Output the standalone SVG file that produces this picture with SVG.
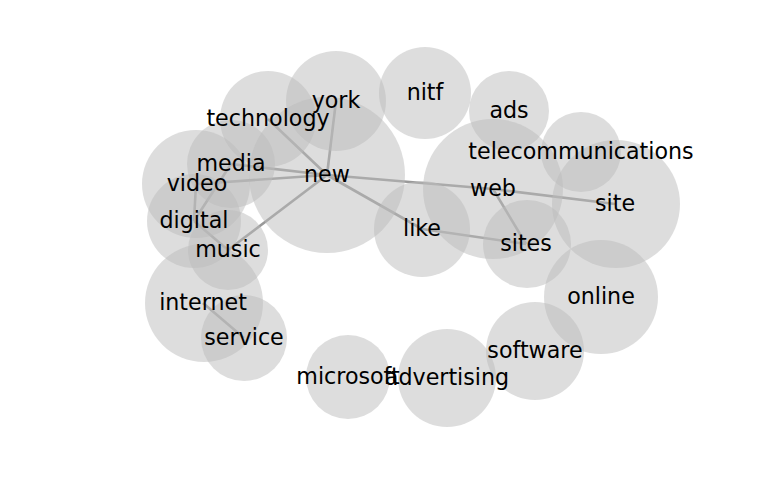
<svg xmlns="http://www.w3.org/2000/svg" width="768" height="500" viewBox="0 0 768 500">
<style>
.n circle{fill:#bbbbbb;fill-opacity:0.5}
.n text{font-family:"DejaVu Sans",sans-serif;font-size:22.2px;text-anchor:middle;fill:#000}
#edges line{stroke:#999999;stroke-width:2.6;stroke-linecap:butt}
</style>
<rect width="768" height="500" fill="#ffffff"/>
<g id="edges">
<line x1="327" y1="175" x2="336" y2="101"/>
<line x1="327" y1="175" x2="268" y2="119"/>
<line x1="327" y1="175" x2="231" y2="164"/>
<line x1="327" y1="175" x2="197" y2="184"/>
<line x1="327" y1="175" x2="228" y2="250"/>
<line x1="327" y1="175" x2="493" y2="189"/>
<line x1="327" y1="175" x2="422" y2="229"/>
<line x1="493" y1="189" x2="615" y2="204"/>
<line x1="493" y1="189" x2="526" y2="244"/>
<line x1="422" y1="229" x2="526" y2="244"/>
<line x1="196" y1="184" x2="194" y2="221"/>
<line x1="231" y1="164" x2="194" y2="221"/>
<line x1="194" y1="221" x2="228" y2="250"/>
<line x1="203" y1="303" x2="244" y2="338"/>
</g>
<g id="node-york" class="n"><circle cx="336" cy="101" r="50"/></g>
<g id="node-nitf" class="n"><circle cx="425" cy="93" r="46"/></g>
<g id="node-technology" class="n"><circle cx="268" cy="119" r="48"/></g>
<g id="node-ads" class="n"><circle cx="509" cy="111" r="40"/></g>
<g id="node-telecommunications" class="n"><circle cx="581" cy="152" r="40"/></g>
<g id="node-media" class="n"><circle cx="231" cy="164" r="44"/></g>
<g id="node-new" class="n"><circle cx="327" cy="175" r="78"/></g>
<g id="node-video" class="n"><circle cx="196" cy="184" r="54"/></g>
<g id="node-web" class="n"><circle cx="493" cy="189" r="70"/></g>
<g id="node-site" class="n"><circle cx="616" cy="204" r="64"/></g>
<g id="node-digital" class="n"><circle cx="194" cy="221" r="47"/></g>
<g id="node-like" class="n"><circle cx="422" cy="229" r="48"/></g>
<g id="node-music" class="n"><circle cx="228" cy="250" r="40"/></g>
<g id="node-sites" class="n"><circle cx="527" cy="244" r="44"/></g>
<g id="node-online" class="n"><circle cx="601" cy="297" r="57"/></g>
<g id="node-internet" class="n"><circle cx="204" cy="303" r="59"/></g>
<g id="node-service" class="n"><circle cx="244" cy="338" r="43"/></g>
<g id="node-software" class="n"><circle cx="535" cy="351" r="49"/></g>
<g id="node-microsoft" class="n"><circle cx="348" cy="377" r="42"/></g>
<g id="node-advertising" class="n"><circle cx="447" cy="378" r="49"/></g>
<g id="labels" class="n">
<text x="336" y="107.6">york</text>
<text x="425" y="99.6">nitf</text>
<text x="268" y="125.6">technology</text>
<text x="509" y="117.6">ads</text>
<text x="581" y="158.6">telecommunications</text>
<text x="231" y="170.6">media</text>
<text x="327" y="181.6">new</text>
<text x="197" y="190.6">video</text>
<text x="493" y="195.6">web</text>
<text x="615" y="210.6">site</text>
<text x="194" y="227.6">digital</text>
<text x="422" y="235.6">like</text>
<text x="228" y="256.6">music</text>
<text x="526" y="250.6">sites</text>
<text x="601" y="303.6">online</text>
<text x="203" y="309.6">internet</text>
<text x="244" y="344.6">service</text>
<text x="535" y="357.6">software</text>
<text x="348" y="383.6">microsoft</text>
<text x="447" y="384.6">advertising</text>
</g>
</svg>
